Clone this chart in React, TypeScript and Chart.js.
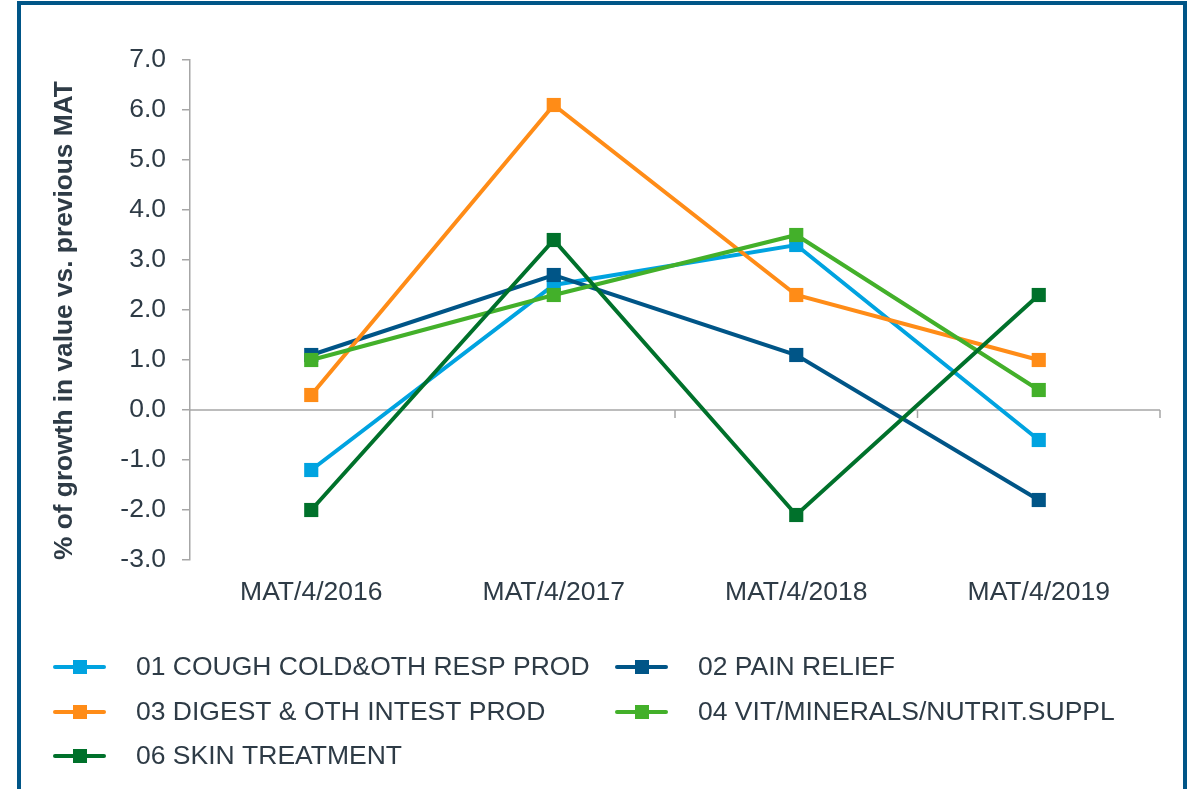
import React, { useEffect, useRef } from "react";
import { Chart, registerables } from "chart.js";

Chart.register(...registerables);

// ---- Data ----
const categories = ["MAT/4/2016", "MAT/4/2017", "MAT/4/2018", "MAT/4/2019"];
const seriesNames = [
  "01 COUGH COLD&OTH RESP PROD",
  "02 PAIN RELIEF",
  "03 DIGEST & OTH INTEST PROD",
  "04 VIT/MINERALS/NUTRIT.SUPPL",
  "06 SKIN TREATMENT",
];
const coughValues = [-1.2, 2.5, 3.3, -0.6];
const painValues = [1.1, 2.7, 1.1, -1.8];
const digestValues = [0.3, 6.1, 2.3, 1.0];
const vitValues = [1.0, 2.3, 3.5, 0.4];
const skinValues = [-2.0, 3.4, -2.1, 2.3];
const seriesValues = [coughValues, painValues, digestValues, vitValues, skinValues];
const seriesColors = ["#00A3E0", "#005587", "#FF8C17", "#43B02A", "#00712B"];
const yMin = -3;
const yMax = 7;
const yStep = 1;
const yTitle = "% of growth in value vs. previous MAT";

const FONT = "'Liberation Sans', Arial, Helvetica, sans-serif";
const FSIZE = 26.5;
const TITLE_SIZE = 26.3;
const TEXT = "#2E3B46";
const AXIS = "#A6A6A6";

const zeroLinePlugin = {
  id: "zeroLine",
  beforeDatasetsDraw(chart: any) {
    const { ctx, chartArea, scales } = chart;
    const x = scales.x;
    const y = scales.y;
    const y0 = y.getPixelForValue(0);
    ctx.save();
    ctx.strokeStyle = AXIS;
    ctx.lineWidth = 1.5;
    ctx.beginPath();
    ctx.moveTo(chartArea.left, y0);
    ctx.lineTo(chartArea.right, y0);
    const step = x.getPixelForValue(1) - x.getPixelForValue(0);
    for (let i = 0; i < categories.length; i++) {
      const bx = x.getPixelForValue(i) + step / 2;
      ctx.moveTo(bx, y0);
      ctx.lineTo(bx, y0 + 8);
    }
    ctx.stroke();
    ctx.restore();
  },
};

const legendPlugin = {
  id: "customLegend",
  afterDraw(chart: any) {
    const { ctx } = chart;
    const colX = [55, 617];
    const rowY = [667, 712, 756];
    ctx.save();
    chart.data.datasets.forEach((ds: any, i: number) => {
      const col = i % 2;
      const row = Math.floor(i / 2);
      const x0 = colX[col];
      const yc = rowY[row];
      ctx.strokeStyle = ds.borderColor;
      ctx.lineWidth = 4;
      ctx.lineCap = "round";
      ctx.beginPath();
      ctx.moveTo(x0, yc);
      ctx.lineTo(x0 + 49, yc);
      ctx.stroke();
      ctx.fillStyle = ds.borderColor;
      ctx.fillRect(x0 + 25 - 7, yc - 7, 14, 14);
      ctx.fillStyle = TEXT;
      ctx.font = `${FSIZE}px ${FONT}`;
      ctx.textBaseline = "middle";
      ctx.textAlign = "left";
      ctx.fillText(ds.label, x0 + 81, yc + 1);
    });
    ctx.restore();
  },
};

export default function App() {
  const canvasRef = useRef<HTMLCanvasElement | null>(null);

  useEffect(() => {
    if (!canvasRef.current) return;
    const chart = new Chart(canvasRef.current, {
      type: "line",
      data: {
        labels: categories,
        datasets: seriesNames.map((name, i) => ({
          label: name,
          data: seriesValues[i],
          borderColor: seriesColors[i],
          backgroundColor: seriesColors[i],
          pointBackgroundColor: seriesColors[i],
          borderWidth: 4,
          tension: 0,
          pointStyle: "rect",
          pointRadius: 10,
          pointHoverRadius: 10,
          pointBorderWidth: 0,
          order: -i,
        })),
      },
      options: {
        responsive: false,
        animation: false,
        devicePixelRatio: 1,
        layout: { padding: { left: 0, top: 60, right: 30, bottom: 169 } },
        plugins: {
          legend: { display: false },
          tooltip: { enabled: false },
        },
        scales: {
          x: {
            type: "category",
            offset: true,
            grid: { display: false, drawTicks: false },
            border: { display: false },
            ticks: {
              color: TEXT,
              font: { family: FONT, size: FSIZE },
              padding: 17,
              maxRotation: 0,
              autoSkip: false,
            },
            afterFit(scale: any) {
              scale.height = 60;
            },
          },
          y: {
            min: yMin,
            max: yMax,
            ticks: {
              stepSize: yStep,
              color: TEXT,
              font: { family: FONT, size: FSIZE },
              padding: 16,
              callback: (v: any) => Number(v).toFixed(1),
            },
            grid: {
              drawOnChartArea: false,
              color: AXIS,
              lineWidth: 1.5,
              tickLength: 8,
            },
            border: { color: AXIS, width: 1.5 },
            title: {
              display: true,
              text: yTitle,
              align: "start",
              color: TEXT,
              font: { family: FONT, size: TITLE_SIZE, weight: "bold" },
              padding: { top: 49, bottom: 0 },
            },
            afterFit(scale: any) {
              scale.width = 190;
            },
          },
        },
      },
      plugins: [zeroLinePlugin, legendPlugin],
    });
    return () => chart.destroy();
  }, []);

  return (
    <div
      style={{
        position: "fixed",
        left: 0,
        top: 0,
        width: 1190,
        height: 789,
        overflow: "hidden",
        background: "#ffffff",
      }}
    >
      <div
        style={{
          position: "absolute",
          left: 17,
          top: 1,
          width: 1162,
          height: 820,
          border: "4px solid #005587",
        }}
      />
      <canvas
        ref={canvasRef}
        width={1190}
        height={789}
        style={{ position: "absolute", left: 0, top: 0, width: 1190, height: 789 }}
      />
    </div>
  );
}
